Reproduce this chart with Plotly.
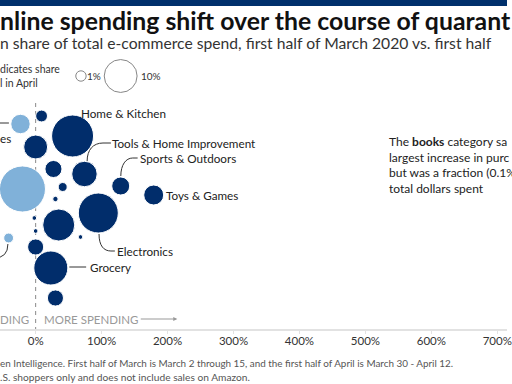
import plotly.graph_objects as go

# ---------------- data ----------------
categories = [
    "Pet Supplies", "Home & Kitchen", "Health & Household", "Baby",
    "Tools & Home Improvement", "Arts, Crafts & Sewing", "Sports & Outdoors",
    "Toys & Games", "Musical Instruments", "Electronics", "Software",
    "Automotive", "Appliances", "Industrial & Scientific",
    "Cell Phones & Accessories", "Grocery", "Video Games",
    "Beauty & Personal Care", "Clothing & Accessories", "Luggage & Travel Gear",
]
change_pct = [9, 56, 0, 27, 74, 41, 129, 179, 30, 95, -2, 35, 0, 68, 0, 23, 30,
              -23, -20, -41]
share_april = [1.3, 16.3, 5.3, 2.7, 6.0, 0.75, 3.0, 3.7, 0.27, 14.8, 0.2, 9.5,
               0.2, 0.2, 2.4, 10.7, 2.4, 3.5, 19.6, 0.9]
# vertical (beeswarm) placement, arbitrary units
row = [116, 136, 147, 169, 174, 187, 186, 195, 199, 213, 218, 225, 231, 237,
       247, 268, 298, 124, 189, 238]
share_fell = [False] * 17 + [True] * 3

tick_values = [0, 100, 200, 300, 400, 500, 600, 700]
tick_labels = [f"{v}%" for v in tick_values]
legend_shares = [1, 10]
legend_labels = ["1%", "10%"]

# visible (cropped) text of the reference
title_txt = "nline spending shift over the course of quarant"
subtitle_txt = "n share of total e-commerce spend, first half of March 2020 vs. first half"
legend_txt = ["dicates share", "l in April"]
note_txt = ("The <b>books</b> category sa<br>largest increase in purc<br>"
            "but was a fraction (0.1%<br>total dollars spent")
footer_txt = ["en Intelligence. First half of March is March 2 through 15, and the "
              "first half of April is March 30 - April 12.",
              ".S. shoppers only and does not include sales on Amazon."]

# ---------------- layout helpers ----------------
W, H = 512, 384
PX_PER_PCT = 0.666
X0_PX = 36
x_range = [-X0_PX / PX_PER_PCT, (W - X0_PX) / PX_PER_PCT]
PLOT_H = 329

def px(xp):          # pixel -> paper x
    return xp / W

def py(yp):          # pixel -> paper y
    return (PLOT_H - yp) / PLOT_H

def dx(xp):          # pixel -> data x
    return (xp - X0_PX) / PX_PER_PCT

DARK = "#012d6b"
LIGHT = "#80b1d9"
FONT = "Lato"
SIZEREF = 1 / (2 * 5.2 ** 2)

fig = go.Figure()

fig.add_trace(go.Scatter(
    x=change_pct, y=row, mode="markers", text=categories,
    marker=dict(size=share_april, sizemode="area", sizeref=SIZEREF,
                color=[LIGHT if f else DARK for f in share_fell],
                line=dict(color="white", width=1), opacity=1),
    hoverinfo="text", showlegend=False, cliponaxis=False,
))

# size legend
fig.add_trace(go.Scatter(
    x=[68.7, 128.9], y=[76, 76], mode="markers",
    marker=dict(size=legend_shares, sizemode="area", sizeref=SIZEREF,
                color="rgba(0,0,0,0)", line=dict(color="#555", width=1)),
    hoverinfo="skip", showlegend=False, cliponaxis=False,
))

shapes = []
# top bar
shapes.append(dict(type="rect", xref="paper", yref="paper", x0=0, x1=1,
                   y0=py(6), y1=1, fillcolor="#00306c", line=dict(width=0)))
# zero line dashed
shapes.append(dict(type="line", xref="x", yref="y", x0=0, x1=0, y0=103, y1=PLOT_H,
                   line=dict(color="#8a8a8a", width=1, dash="4px,4px"), layer="below"))

def path(d):
    return dict(type="path", xref="x", yref="y", path=d,
                line=dict(color="#333", width=1))

def P(xp, yp):
    return f"{dx(xp):.3f},{yp}"

leaders = [
    f"M {P(88,161)} C {P(88,150)} {P(94,143)} {P(104,143)} L {P(112,143)}",
    f"M {P(122,176)} C {P(122,165)} {P(127,158)} {P(134,158)} L {P(139,158)}",
    f"M {P(100,234)} C {P(100,246)} {P(105,251)} {P(112,251)} L {P(116,251)}",
    f"M {P(70,267)} L {P(87,267)}",
    f"M {P(-30,123)} L {P(9,123)}",
    f"M {P(8,244)} Q {P(8,258)} {P(-6,258)}",
]
for d in leaders:
    shapes.append(path(d))

ann = []
def text(xp, yp, t, size, color="#222", xanchor="left", bold=False, align="left"):
    ann.append(dict(xref="paper", yref="paper", x=px(xp), y=py(yp), text=t,
                    showarrow=False, xanchor=xanchor, yanchor="middle",
                    align=align,
                    font=dict(family=FONT, size=size, color=color,
                              weight="bold" if bold else "normal")))

# titles
text(-2, 20, title_txt, 24.8, "#111", bold=True)
text(-2, 43, subtitle_txt, 15.7, "#333")
text(-2, 69, legend_txt[0], 10.5, "#333")
text(-2, 83, legend_txt[1], 10.5, "#333")
text(86, 76, legend_labels[0], 10, "#333")
text(140, 76, legend_labels[1], 10, "#333")

# category labels
text(80, 113, "Home & Kitchen", 11.7)
text(111, 143, "Tools & Home Improvement", 11.7)
text(139, 158, "Sports & Outdoors", 11.7)
text(166, 195, "Toys & Games", 11.7)
text(116, 251, "Electronics", 11.7)
text(89, 267, "Grocery", 11.7)
text(13, 138, "es", 11.7, xanchor="right")

# note
text(391, 165, note_txt, 12, "#222")

# direction labels
text(42, 319, "MORE SPENDING", 11.5, "#999")
text(31, 319, "DING", 11.5, "#999", xanchor="right")
ann.append(dict(xref="x", yref="y", x=dx(179), y=319, text="", showarrow=True,
                axref="pixel", ayref="pixel", ax=-38, ay=0, arrowhead=2,
                arrowsize=0.8, arrowwidth=1, arrowcolor="#999"))

# footer
text(-2, 363, footer_txt[0], 9.9, "#555")
text(-2, 377, footer_txt[1], 10.2, "#555")

fig.update_layout(
    width=W, height=H, margin=dict(l=0, r=0, t=0, b=H - PLOT_H),
    paper_bgcolor="white", plot_bgcolor="white",
    shapes=shapes, annotations=ann,
    font=dict(family=FONT),
    xaxis=dict(range=x_range, tickvals=tick_values, ticktext=tick_labels,
               showgrid=False, zeroline=False, showline=True, linecolor="#e2e2e2",
               linewidth=2, ticks="outside", ticklen=3, tickcolor="#e2e2e2",
               ticklabelstandoff=-3, ticklabeloverflow="allow",
               tickfont=dict(family=FONT, size=11.5, color="#333"), fixedrange=True),
    yaxis=dict(range=[PLOT_H, 0], visible=False, fixedrange=True),
)

fig.write_html("out.html", config={"displayModeBar": False},
               post_script="document.body.style.margin='0';")
